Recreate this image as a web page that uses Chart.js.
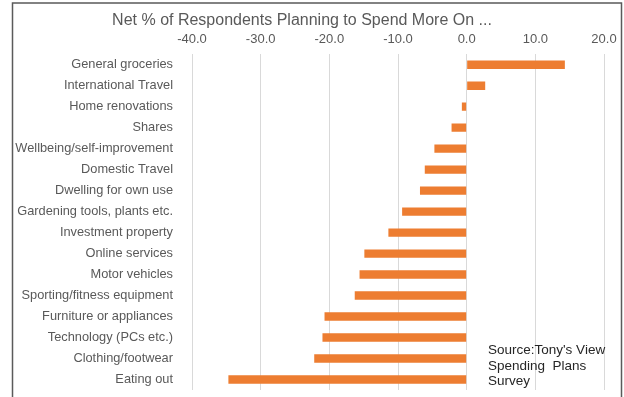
<!DOCTYPE html>
<html>
<head>
<meta charset="utf-8">
<script src="https://cdn.jsdelivr.net/npm/chart.js@4"></script>
<style>
  html, body { margin: 0; padding: 0; background: #fff; }
  #wrap { position: relative; width: 624px; height: 397px; }
</style>
</head>
<body>
<div id="wrap"><canvas id="spend"></canvas></div>
<script>
const categories = [
  'General groceries', 'International Travel', 'Home renovations', 'Shares',
  'Wellbeing/self-improvement', 'Domestic Travel', 'Dwelling for own use',
  'Gardening tools, plants etc.', 'Investment property', 'Online services',
  'Motor vehicles', 'Sporting/fitness equipment', 'Furniture or appliances',
  'Technology (PCs etc.)', 'Clothing/footwear', 'Eating out'
];
const netPercent = [
  14.3, 2.7, -0.7, -2.2, -4.7, -6.1, -6.8, -9.4,
  -11.4, -14.9, -15.6, -16.3, -20.7, -21.0, -22.2, -34.7
];
const sourceLines = ["Source:Tony's View", 'Spending  Plans', 'Survey'];

const grey = '#595959';
const fontFamily = '"Liberation Sans", Arial, sans-serif';

// outer frame (open at the bottom) and the source note
const extras = {
  id: 'extras',
  afterDraw(chart) {
    const ctx = chart.ctx;
    ctx.save();
    ctx.strokeStyle = '#5a5a5a';
    ctx.lineWidth = 1.5;
    ctx.beginPath();
    ctx.moveTo(12.5, 397);
    ctx.lineTo(12.5, 3);
    ctx.lineTo(621.5, 3);
    ctx.lineTo(621.5, 397);
    ctx.stroke();

    ctx.fillStyle = '#262626';
    ctx.font = '13.5px ' + fontFamily;
    ctx.textBaseline = 'middle';
    sourceLines.forEach((t, i) => ctx.fillText(t, 488, 350.5 + i * 15.5));
    ctx.restore();
  }
};

const barConfig = {
  type: 'bar',
  data: {
    labels: categories,
    datasets: [{
      label: 'Net %',
      data: netPercent,
      backgroundColor: '#ED7D31',
      categoryPercentage: 0.8,
      barPercentage: 0.5
    }]
  },
  options: {
    indexAxis: 'y',
    responsive: true,
    maintainAspectRatio: false,
    animation: false,
    layout: { padding: { left: 0, right: 20, top: 0, bottom: 7 } },
    plugins: {
      legend: { display: false },
      tooltip: { enabled: false },
      title: {
        display: true,
        text: 'Net % of Respondents Planning to Spend More On ...',
        color: grey,
        font: { family: fontFamily, size: 16, weight: 'normal' },
        padding: { top: 11, bottom: 0 }
      }
    },
    scales: {
      x: {
        position: 'top',
        min: -40,
        max: 20,
        ticks: {
          stepSize: 10,
          padding: 7,
          color: grey,
          font: { family: fontFamily, size: 13 },
          callback: v => v.toFixed(1)
        },
        grid: { color: '#d9d9d9', drawTicks: false },
        border: { display: false },
        afterFit: scale => { scale.height = 24; }
      },
      y: {
        ticks: {
          padding: 11,
          color: grey,
          autoSkip: false,
          font: { family: fontFamily, size: 12.8 }
        },
        grid: { display: false },
        border: { display: false },
        afterFit: scale => {
          // fixed label column; labels may sit flush with the plot top/bottom
          scale.width = 192;
          scale.paddingTop = 0;
          scale.paddingBottom = 0;
        }
      }
    }
  },
  plugins: [extras]
};

window.onload = function() {
  new Chart(document.getElementById('spend'), barConfig);
};
</script>
</body>
</html>
